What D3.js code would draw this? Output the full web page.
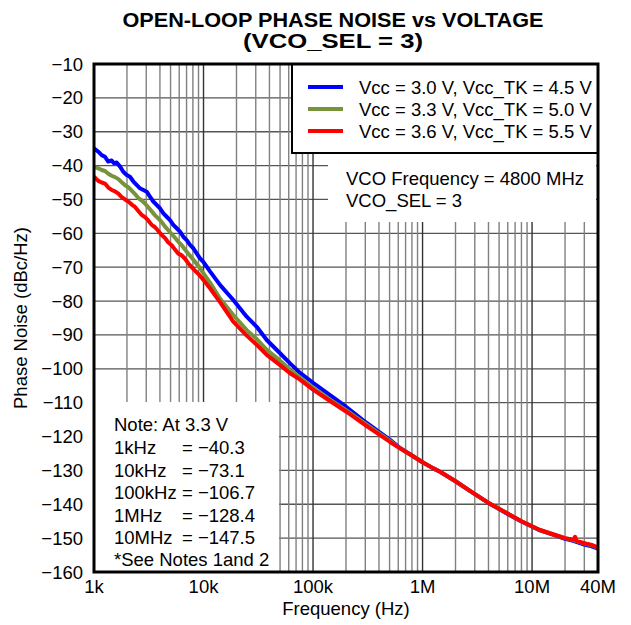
<!DOCTYPE html>
<html><head><meta charset="utf-8">
<script src="https://cdn.jsdelivr.net/npm/d3@7"></script>
<style>body{margin:0;background:#fff}svg{display:block;font-family:"Liberation Sans",Arial,sans-serif}</style>
</head><body><svg id="c" width="631" height="625"></svg>
<script>
const xTickValues = [1e3, 1e4, 1e5, 1e6, 1e7, 4e7];
const xTickLabels = ["1k", "10k", "100k", "1M", "10M", "40M"];
const yTickValues = [-10,-20,-30,-40,-50,-60,-70,-80,-90,-100,-110,-120,-130,-140,-150,-160];
const seriesNames = ["Vcc = 3.0 V, Vcc_TK = 4.5 V", "Vcc = 3.3 V, Vcc_TK = 5.0 V", "Vcc = 3.6 V, Vcc_TK = 5.5 V"];
const seriesColors = ["#0000ff", "#77933c", "#ff0000"];
const noteLabels = ["1kHz", "10kHz", "100kHz", "1MHz", "10MHz"];
const noteValues = ["= \u221240.3", "= \u221273.1", "= \u2212106.7", "= \u2212128.4", "= \u2212147.5"];

const blueData = [
[1000,-34.9],[1095,-35.9],[1175,-36.9],[1260,-37.4],[1350,-38.8],[1450,-38.5],[1520,-39.3],[1610,-39.1],[1730,-40.3],[1850,-41.8],[1990,-42.8],[2130,-43.3],[2290,-44.7],[2450,-45.7],[2630,-46.7],[2820,-47.2],[3030,-47.7],[3250,-49.2],[3480,-50.6],[3730,-51.6],[4000,-52.6],[4300,-54.1],[4610,-55.1],[4940,-56.1],[5300,-57.5],[5690,-58.5],[6100,-59.5],[6540,-61.0],[7020,-62.0],[7530,-63.4],[8070,-64.4],[8660,-65.9],[9290,-67.4],[10000,-68.5],[11500,-71.3],[14200,-75.3],[18700,-79.7],[24800,-84.6],[30600,-87.6],[37800,-91.5],[50000,-95.4],[61700,-98.4],[76100,-101.2],[100700,-104.2],[143000,-107.8],[200000,-111.2],[309000,-116.0],[505000,-121.0],[623000,-123.4],[800000,-125.6],[1000000,-127.6],[1255000,-129.4],[1445000,-130.4],[2000000,-133.2],[2910000,-136.7],[4000000,-139.6],[5870000,-142.7],[8000000,-145.1],[11800000,-147.7],[16000000,-149.1],[20000000,-150.2],[23800000,-150.8],[30000000,-151.9],[35000000,-152.4],[40000000,-153.1]];
const greenData = [
[1000,-40.3],[1095,-40.8],[1175,-41.3],[1260,-41.6],[1350,-42.4],[1450,-43.0],[1555,-43.4],[1670,-44.0],[1790,-44.9],[1920,-45.8],[2060,-46.4],[2210,-47.4],[2370,-48.4],[2540,-49.6],[2730,-50.3],[2920,-51.2],[3130,-52.3],[3360,-53.5],[3610,-54.7],[3870,-55.6],[4150,-56.7],[4450,-58.0],[4770,-59.1],[5120,-60.2],[5490,-61.3],[5890,-62.5],[6320,-63.5],[6780,-64.8],[7270,-66.0],[7800,-67.2],[8400,-68.5],[9000,-69.7],[10000,-71.8],[11500,-74.6],[14200,-79.3],[18700,-84.1],[24800,-88.6],[30600,-91.2],[37800,-94.4],[50000,-97.6],[61700,-100.2],[76100,-102.6],[100700,-105.6],[143000,-109.1],[200000,-112.2],[309000,-116.5],[505000,-121.3],[623000,-123.5],[800000,-125.6],[1000000,-127.6],[1255000,-129.4],[1445000,-130.4],[2000000,-133.2],[2910000,-136.7],[4000000,-139.6],[5870000,-142.6],[8000000,-145.0],[11800000,-147.6],[16000000,-149.0],[20000000,-150.0],[23800000,-150.6],[30000000,-151.6],[35000000,-152.1],[40000000,-152.9]];
const redData = [
[1000,-43.3],[1095,-44.5],[1175,-45.0],[1260,-45.3],[1350,-46.5],[1450,-47.2],[1555,-47.6],[1670,-48.3],[1790,-49.3],[1920,-50.0],[2060,-50.6],[2210,-51.5],[2370,-52.2],[2540,-53.4],[2730,-54.6],[2920,-55.2],[3130,-56.2],[3360,-57.5],[3610,-58.2],[3870,-59.3],[4150,-60.5],[4450,-61.4],[4770,-62.7],[5120,-63.5],[5490,-64.8],[5890,-66.0],[6320,-66.5],[6780,-67.5],[7270,-68.9],[7800,-70.0],[8400,-71.1],[9000,-72.0],[10000,-73.8],[11500,-76.3],[14200,-80.4],[18700,-86.1],[24800,-90.2],[30600,-92.9],[37800,-95.9],[50000,-98.9],[61700,-101.3],[76100,-103.2],[100700,-106.2],[143000,-109.5],[200000,-112.6],[309000,-116.9],[505000,-121.6],[623000,-123.5],[800000,-125.6],[1000000,-127.6],[1255000,-129.4],[1445000,-130.4],[2000000,-133.2],[2910000,-136.7],[4000000,-139.6],[5870000,-142.6],[8000000,-145.0],[11800000,-147.6],[16000000,-149.0],[20000000,-150.0],[23800000,-150.5],[24700000,-149.6],[25500000,-150.8],[30000000,-151.5],[35000000,-152.0],[40000000,-152.8]];
const allSeries = [blueData, greenData, redData];

const svg = d3.select("#c");
const L = 94, R = 598, T = 64, B = 572;
const FS = 18.5;
const x = d3.scaleLog().domain([1e3, 4e7]).range([L, R]);
const y = d3.scaleLinear().domain([-160, -10]).range([B, T]);

// grid
const minor = [];
[1e3,1e4,1e5,1e6,1e7].forEach(d => { for (let m = 1; m <= 9; m++) { const f = m*d; if (f < 4e7) minor.push(f); } });
const g = svg.append("g");
g.selectAll("line.h").data(yTickValues).join("line")
  .attr("x1", L).attr("x2", R).attr("y1", d => y(d)).attr("y2", d => y(d))
  .attr("stroke", "#555").attr("stroke-width", 1.3);
g.selectAll("line.v").data(minor).join("line")
  .attr("x1", d => x(d)).attr("x2", d => x(d)).attr("y1", T).attr("y2", B)
  .attr("stroke", d => [1e3,1e4,1e5,1e6,1e7].includes(d) ? "#333" : "#808080")
  .attr("stroke-width", 1.4);

// white boxes
svg.append("rect").attr("x", L).attr("y", 402).attr("width", 279 - L).attr("height", B - 402).attr("fill", "#fff");
svg.append("rect").attr("x", 328).attr("y", 153).attr("width", 268).attr("height", 69).attr("fill", "#fff");

// curves
const line = d3.line().x(d => x(d[0])).y(d => y(d[1]));
allSeries.forEach((s, i) => {
  svg.append("path").datum(s).attr("d", line).attr("fill", "none")
    .attr("stroke", seriesColors[i]).attr("stroke-width", 4).attr("stroke-linejoin", "round");
});

// legend
svg.append("rect").attr("x", 292).attr("y", T).attr("width", R - 292).attr("height", 89)
  .attr("fill", "#fff").attr("stroke", "#000").attr("stroke-width", 2);
seriesNames.forEach((n, i) => {
  const yy = 87 + i * 22;
  svg.append("line").attr("x1", 308).attr("x2", 343).attr("y1", yy).attr("y2", yy)
    .attr("stroke", seriesColors[i]).attr("stroke-width", 4);
  svg.append("text").attr("x", 359).attr("y", yy + 6.5).attr("font-size", FS).text(n);
});
svg.append("text").attr("x", 346).attr("y", 185).attr("font-size", FS).text("VCO Frequency = 4800 MHz");
svg.append("text").attr("x", 346).attr("y", 207).attr("font-size", FS).text("VCO_SEL = 3");

// note
svg.append("text").attr("x", 114).attr("y", 431).attr("font-size", FS).text("Note: At 3.3 V");
noteLabels.forEach((n, i) => {
  const yy = 454 + i * 22.5;
  svg.append("text").attr("x", 114).attr("y", yy).attr("font-size", FS).text(n);
  svg.append("text").attr("x", 182).attr("y", yy).attr("font-size", FS).text(noteValues[i]);
});
svg.append("text").attr("x", 114).attr("y", 566).attr("font-size", FS).text("*See Notes 1and 2");

// border
svg.append("rect").attr("x", L).attr("y", T).attr("width", R - L).attr("height", B - T)
  .attr("fill", "none").attr("stroke", "#000").attr("stroke-width", 3);

// ticks
svg.selectAll("text.xt").data(xTickValues).join("text")
  .attr("x", d => x(d)).attr("y", 593).attr("text-anchor", "middle").attr("font-size", FS)
  .text((d, i) => xTickLabels[i]);
svg.selectAll("text.yt").data(yTickValues).join("text")
  .attr("x", 83).attr("y", d => y(d) + 6.5).attr("text-anchor", "end").attr("font-size", FS)
  .text(d => "\u2212" + Math.abs(d));

svg.append("text").attr("x", (L + R) / 2).attr("y", 615).attr("text-anchor", "middle").attr("font-size", FS).text("Frequency (Hz)");
svg.append("text").attr("transform", `translate(27,${(T + B) / 2}) rotate(-90)`).attr("text-anchor", "middle").attr("font-size", FS).text("Phase Noise (dBc/Hz)");

svg.append("text").attr("x", 333).attr("y", 27).attr("text-anchor", "middle").attr("font-size", 20)
  .attr("font-weight", "bold").attr("textLength", 421).attr("lengthAdjust", "spacingAndGlyphs")
  .text("OPEN-LOOP PHASE NOISE vs VOLTAGE");
svg.append("text").attr("x", 333).attr("y", 48).attr("text-anchor", "middle").attr("font-size", 20)
  .attr("font-weight", "bold").attr("textLength", 180).attr("lengthAdjust", "spacingAndGlyphs")
  .text("(VCO_SEL = 3)");
</script></body></html>
